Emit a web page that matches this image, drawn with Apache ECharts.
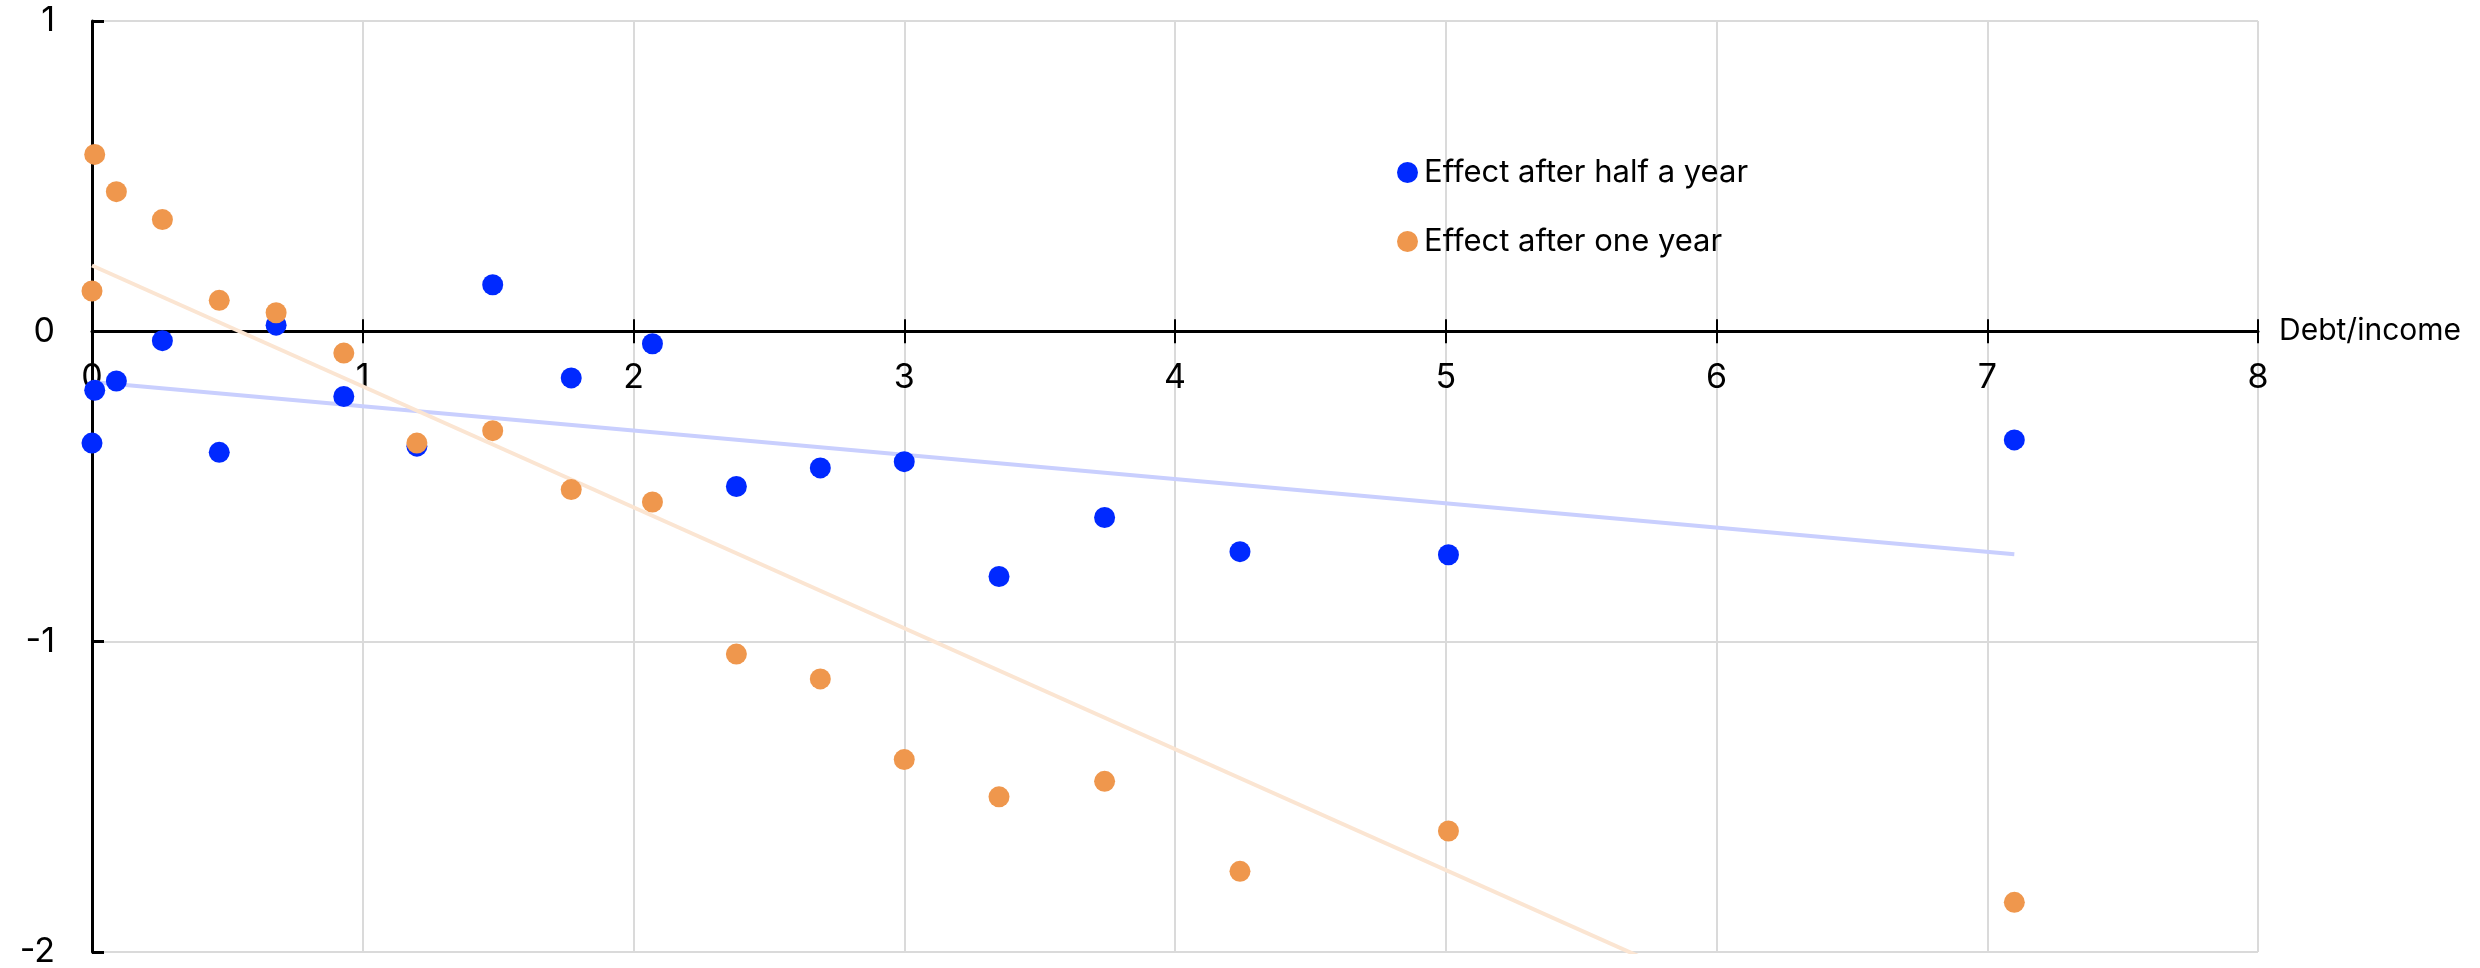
<!DOCTYPE html>
<html>
<head>
<meta charset="utf-8">
<script src="https://cdn.jsdelivr.net/npm/echarts@6/dist/echarts.min.js"></script>
<style>
  html, body { margin: 0; padding: 0; background: #ffffff; }
  #chart { width: 2480px; height: 968px; }
</style>
</head>
<body>
<div id="chart"></div>
<script>
// Debt-to-income ratio of each group (x values)
const debtIncome = [0.01, 0, 0.09, 0.26, 0.47, 0.68, 0.93, 1.2, 1.48, 1.77, 2.07, 2.38, 2.69, 3.0, 3.35, 3.74, 4.24, 5.01, 7.1];
// Estimated effect after half a year
const effectHalfYear = [-0.19, -0.36, -0.16, -0.03, -0.39, 0.02, -0.21, -0.37, 0.15, -0.15, -0.04, -0.50, -0.44, -0.42, -0.79, -0.60, -0.71, -0.72, -0.35];
// Estimated effect after one year
const effectOneYear = [0.57, 0.13, 0.45, 0.36, 0.10, 0.06, -0.07, -0.36, -0.32, -0.51, -0.55, -1.04, -1.12, -1.38, -1.50, -1.45, -1.74, -1.61, -1.84];
// Linear trend lines: [x, y] end points
const trendHalfYear = [[0, -0.163], [7.1, -0.718]];
const trendOneYear = [[0, 0.212], [7.1, -2.554]];

const seriesNames = ['Effect after half a year', 'Effect after one year'];
const xAxisName = 'Debt/income';

const FONT = 'Inter, "Liberation Sans", Arial, sans-serif';
const BLUE = '#0029ff';
const ORANGE = '#ef974d';

const Y_MIN = -2, Y_MAX = 1;
const X_MIN = 0, X_MAX = 8;

// Plot area geometry
const G_LEFT = 92, G_RIGHT = 222, G_TOP = 21, G_BOTTOM = 16, H = 968;
const plotHeight = H - G_TOP - G_BOTTOM;
// The horizontal axis sits at y = 0: a second grid ends exactly there
const zeroGridHeight = plotHeight * (Y_MAX - 0) / (Y_MAX - Y_MIN);

const pairs = (xs, ys) => xs.map((x, i) => [x, ys[i]]);

const chart = echarts.init(document.getElementById('chart'), null, { renderer: 'canvas' });

const tickStyle = { color: '#000', width: 2 };

chart.setOption({
  animation: false,
  backgroundColor: '#ffffff',
  textStyle: { fontFamily: FONT },
  grid: [
    { left: G_LEFT, right: G_RIGHT, top: G_TOP, bottom: G_BOTTOM, outerBoundsMode: 'none', containLabel: false },
    { left: G_LEFT, right: G_RIGHT, top: G_TOP, height: zeroGridHeight, outerBoundsMode: 'none', containLabel: false }
  ],
  legend: {
    data: seriesNames,
    orient: 'vertical',
    left: 1392,
    top: 152,
    itemWidth: 23,
    itemHeight: 21,
    itemGap: 38,
    icon: 'circle',
    textStyle: { fontFamily: FONT, fontSize: 31, color: '#000' }
  },
  xAxis: [
    {
      // data axis: vertical gridlines only
      type: 'value', gridIndex: 0, min: X_MIN, max: X_MAX, interval: 1,
      axisLine: { show: false }, axisTick: { show: false }, axisLabel: { show: false },
      splitLine: { show: true, lineStyle: { color: '#dadada', width: 2 } }
    },
    {
      // drawn axis at y = 0 with labels, downward ticks and name
      type: 'value', gridIndex: 1, position: 'bottom', min: X_MIN, max: X_MAX, interval: 1,
      name: xAxisName,
      nameLocation: 'end',
      nameGap: 21,
      nameTextStyle: { fontFamily: FONT, fontSize: 30, color: '#000' },
      axisLine: { show: true, onZero: false, lineStyle: { color: '#000', width: 3 } },
      axisTick: { show: true, inside: false, length: 12, lineStyle: tickStyle },
      axisLabel: { margin: 29, fontFamily: FONT, fontSize: 34, color: '#000' },
      splitLine: { show: false }
    },
    {
      // upward half of the crossing ticks
      type: 'value', gridIndex: 1, position: 'bottom', min: X_MIN, max: X_MAX, interval: 1,
      axisLine: { show: false, onZero: false },
      axisTick: { show: true, inside: true, length: 12, lineStyle: tickStyle },
      axisLabel: { show: false },
      splitLine: { show: false }
    }
  ],
  yAxis: [
    {
      type: 'value', gridIndex: 0, min: Y_MIN, max: Y_MAX, interval: 1, position: 'left',
      axisLine: { show: true, onZero: false, lineStyle: { color: '#000', width: 3 } },
      axisTick: { show: true, inside: true, length: 12, lineStyle: { color: '#000', width: 3 } },
      axisLabel: { margin: 37, fontFamily: FONT, fontSize: 34, color: '#000' },
      splitLine: { show: true, lineStyle: { color: '#dadada', width: 2 } }
    },
    {
      type: 'value', gridIndex: 1, min: 0, max: Y_MAX, show: false,
      axisLine: { show: false, onZero: false }, splitLine: { show: false }
    }
  ],
  series: [
    {
      name: 'Trend half a year',
      type: 'line', xAxisIndex: 0, yAxisIndex: 0,
      data: trendHalfYear,
      showSymbol: false, symbol: 'none', clip: true, silent: true,
      lineStyle: { color: '#c9cffe', width: 4 },
      z: 1
    },
    {
      name: 'Trend one year',
      type: 'line', xAxisIndex: 0, yAxisIndex: 0,
      data: trendOneYear,
      showSymbol: false, symbol: 'none', clip: true, silent: true,
      lineStyle: { color: '#fbe5d2', width: 4 },
      z: 1
    },
    {
      name: seriesNames[0],
      type: 'scatter', xAxisIndex: 0, yAxisIndex: 0,
      data: pairs(debtIncome, effectHalfYear),
      symbol: 'circle', symbolSize: 21,
      itemStyle: { color: BLUE, opacity: 1 },
      z: 3
    },
    {
      name: seriesNames[1],
      type: 'scatter', xAxisIndex: 0, yAxisIndex: 0,
      data: pairs(debtIncome, effectOneYear),
      symbol: 'circle', symbolSize: 21,
      itemStyle: { color: ORANGE, opacity: 1 },
      z: 4
    }
  ]
});
</script>
</body>
</html>
